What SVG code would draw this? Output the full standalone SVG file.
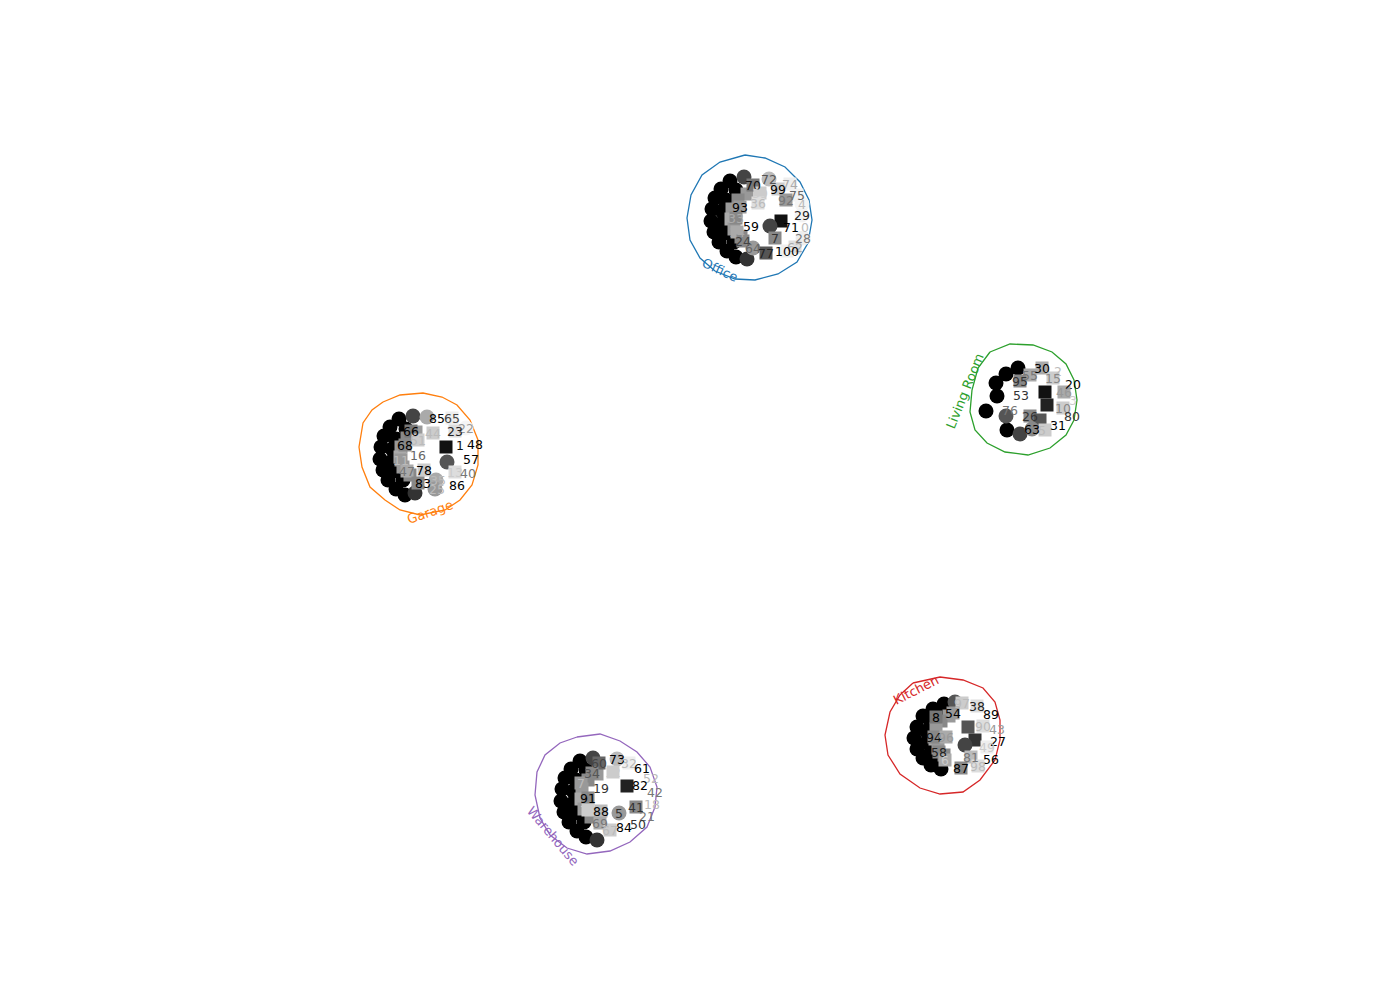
<svg xmlns="http://www.w3.org/2000/svg" width="1400" height="1000" viewBox="0 0 1400 1000">
<style>
.bg{fill:#fff}
.hull{fill:none;stroke-width:1.3}
.hl{font-family:"DejaVu Sans","Liberation Sans",sans-serif;font-size:13px;text-anchor:middle;dominant-baseline:central}
.lb{font-family:"DejaVu Sans","Liberation Sans",sans-serif;font-size:12.5px;text-anchor:middle;dominant-baseline:central}
.k{fill:#000}
</style>
<defs>
<circle id="c" r="7.5"/>
<rect id="s" x="-6.5" y="-6.5" width="13" height="13"/>
</defs>
<rect class="bg" x="0" y="0" width="1400" height="1000"/>
<g id="connectors"></g>

<g id="office">
<polyline class="hull" stroke="#1f77b4" points="745,155 765,158 785,167 800,182 809,200 812,220 808,243 797,262 778,274 755,280 735,279 715,271 700,258 690,240 687,218 691,195 702,175 720,162 745,155"/>
<text class="hl" fill="#1f77b4" transform="translate(720,270) rotate(25)">Office</text>
<g class="k"><use href="#c" x="730" y="181"/><use href="#c" x="721" y="189"/><use href="#c" x="715" y="198"/><use href="#c" x="712" y="209"/><use href="#c" x="711" y="221"/><use href="#c" x="714" y="232"/><use href="#c" x="719" y="242"/><use href="#c" x="727" y="251"/><use href="#c" x="736" y="257"/>
<use href="#c" x="736" y="190"/><use href="#c" x="726" y="200"/><use href="#c" x="722" y="211"/><use href="#c" x="722" y="223"/><use href="#c" x="726" y="233"/><use href="#c" x="734" y="242"/></g>
<use href="#c" x="744" y="177" fill="#444"/><use href="#c" x="747" y="259" fill="#333"/>
<use href="#s" x="747" y="194" fill="#999"/><use href="#s" x="738" y="200" fill="#888"/><use href="#s" x="732" y="209" fill="#999"/><use href="#s" x="731" y="219" fill="#aaa"/><use href="#s" x="734" y="229" fill="#999"/><use href="#s" x="741" y="237" fill="#888"/>
<use href="#c" x="769" y="179" fill="#bbb"/><use href="#s" x="753" y="185" fill="#777"/><use href="#s" x="790" y="184" fill="#eee"/><use href="#s" x="778" y="189" fill="#ccc"/><use href="#s" x="797" y="195" fill="#f2f2f2"/><use href="#s" x="786" y="200" fill="#999"/><use href="#s" x="760" y="193" fill="#ccc"/><use href="#s" x="758" y="203" fill="#ddd"/><use href="#c" x="802" y="204" fill="#f5f5f5"/><use href="#s" x="740" y="207" fill="#999"/><use href="#c" x="802" y="215" fill="#f2f2f2"/><use href="#s" x="736" y="218" fill="#888"/><use href="#s" x="781" y="221" fill="#111"/><use href="#c" x="770" y="226" fill="#444"/><use href="#s" x="737" y="232" fill="#aaa"/><use href="#c" x="803" y="238" fill="#eee"/><use href="#s" x="775" y="238" fill="#888"/><use href="#s" x="795" y="247" fill="#ddd"/><use href="#s" x="743" y="241" fill="#888"/><use href="#c" x="753" y="248" fill="#999"/><use href="#s" x="766" y="253" fill="#555"/><use href="#s" x="787" y="251" fill="#eee"/>
<text class="lb" x="769" y="179" fill="#555">72</text><text class="lb" x="753" y="185" fill="#111">70</text><text class="lb" x="790" y="184" fill="#aaa">74</text><text class="lb" x="778" y="189" fill="#000">99</text><text class="lb" x="797" y="195" fill="#666">75</text><text class="lb" x="786" y="200" fill="#777">92</text><text class="lb" x="760" y="193" fill="#ccc">39</text><text class="lb" x="758" y="203" fill="#bbb">36</text><text class="lb" x="802" y="204" fill="#bbb">4</text><text class="lb" x="740" y="207" fill="#000">93</text><text class="lb" x="802" y="215" fill="#222">29</text><text class="lb" x="736" y="218" fill="#aaa">33</text><text class="lb" x="751" y="226" fill="#000">59</text><text class="lb" x="791" y="227" fill="#000">71</text><text class="lb" x="805" y="227" fill="#bbb">0</text><text class="lb" x="737" y="232" fill="#aaa">14</text><text class="lb" x="803" y="238" fill="#777">28</text><text class="lb" x="775" y="238" fill="#333">7</text><text class="lb" x="795" y="247" fill="#aaa">62</text><text class="lb" x="743" y="241" fill="#444">24</text><text class="lb" x="753" y="248" fill="#666">64</text><text class="lb" x="766" y="253" fill="#222">77</text><text class="lb" x="787" y="251" fill="#000">100</text>
</g>

<g id="living-room">
<polyline class="hull" stroke="#2ca02c" points="990,352 1010,344 1033,345 1052,352 1066,364 1074,380 1077,400 1074,420 1066,435 1050,448 1028,455 1005,452 987,443 975,430 970,412 972,390 978,368 990,352"/>
<text class="hl" fill="#2ca02c" transform="translate(965,391) rotate(-68)">Living Room</text>
<g class="k"><use href="#c" x="1018" y="368"/><use href="#c" x="1006" y="374"/><use href="#c" x="996" y="383"/><use href="#c" x="997" y="396"/><use href="#c" x="986" y="411"/><use href="#c" x="1007" y="430"/></g>
<use href="#c" x="1020" y="434" fill="#444"/><use href="#c" x="1006" y="416" fill="#555"/>
<use href="#s" x="1042" y="368" fill="#aaa"/><use href="#s" x="1030" y="375" fill="#aaa"/><use href="#s" x="1020" y="381" fill="#888"/><use href="#s" x="1053" y="378" fill="#ccc"/><use href="#s" x="1045" y="392" fill="#111"/><use href="#s" x="1047" y="405" fill="#222"/><use href="#s" x="1064" y="392" fill="#aaa"/><use href="#s" x="1063" y="408" fill="#ccc"/><use href="#s" x="1030" y="416" fill="#888"/><use href="#s" x="1040" y="420" fill="#555"/><use href="#c" x="1032" y="429" fill="#888"/><use href="#s" x="1045" y="430" fill="#ccc"/>
<text class="lb" x="1042" y="368" fill="#000">30</text><text class="lb" x="1058" y="371" fill="#bbb">2</text><text class="lb" x="1030" y="375" fill="#777">55</text><text class="lb" x="1020" y="381" fill="#333">95</text><text class="lb" x="1053" y="378" fill="#888">15</text><text class="lb" x="1073" y="384" fill="#000">20</text><text class="lb" x="1021" y="395" fill="#333">53</text><text class="lb" x="1064" y="392" fill="#999">46</text><text class="lb" x="1073" y="400" fill="#ccc">3</text><text class="lb" x="1010" y="410" fill="#777">76</text><text class="lb" x="1063" y="408" fill="#888">10</text><text class="lb" x="1072" y="416" fill="#333">80</text><text class="lb" x="1030" y="416" fill="#333">26</text><text class="lb" x="1032" y="429" fill="#000">63</text><text class="lb" x="1042" y="430" fill="#bbb">5</text><text class="lb" x="1058" y="425" fill="#000">31</text>
</g>

<g id="garage">
<polyline class="hull" stroke="#ff7f0e" points="383,402 400,395 423,393 442,397 457,405 470,420 478,440 478,465 472,485 460,500 445,510 420,515 400,510 385,500 370,487 362,467 359,447 363,423 372,410 383,402"/>
<text class="hl" fill="#ff7f0e" transform="translate(430,512) rotate(-19)">Garage</text>
<g class="k"><use href="#c" x="399" y="419"/><use href="#c" x="390" y="427"/><use href="#c" x="384" y="436"/><use href="#c" x="381" y="447"/><use href="#c" x="380" y="459"/><use href="#c" x="383" y="470"/><use href="#c" x="388" y="480"/><use href="#c" x="396" y="489"/><use href="#c" x="405" y="495"/>
<use href="#c" x="406" y="429"/><use href="#c" x="396" y="439"/><use href="#c" x="392" y="449"/><use href="#c" x="392" y="461"/><use href="#c" x="396" y="471"/><use href="#c" x="403" y="480"/></g>
<use href="#c" x="413" y="416" fill="#444"/><use href="#c" x="415" y="493" fill="#333"/>
<use href="#s" x="416" y="432" fill="#999"/><use href="#s" x="407" y="438" fill="#888"/><use href="#s" x="401" y="447" fill="#999"/><use href="#s" x="400" y="457" fill="#aaa"/><use href="#s" x="403" y="467" fill="#999"/><use href="#s" x="410" y="475" fill="#888"/>
<use href="#c" x="427" y="417" fill="#aaa"/><use href="#s" x="452" y="418" fill="#eee"/><use href="#c" x="466" y="428" fill="#f5f5f5"/><use href="#s" x="411" y="431" fill="#777"/><use href="#s" x="433" y="433" fill="#ccc"/><use href="#s" x="455" y="431" fill="#ddd"/><use href="#s" x="446" y="447" fill="#111"/><use href="#c" x="447" y="462" fill="#555"/><use href="#s" x="405" y="445" fill="#888"/><use href="#s" x="418" y="440" fill="#ccc"/><use href="#s" x="401" y="460" fill="#999"/><use href="#s" x="407" y="471" fill="#aaa"/><use href="#s" x="424" y="470" fill="#ccc"/><use href="#s" x="455" y="472" fill="#ddd"/><use href="#s" x="418" y="483" fill="#888"/><use href="#c" x="436" y="480" fill="#aaa"/><use href="#c" x="435" y="489" fill="#999"/>
<text class="lb" x="437" y="418" fill="#000">85</text><text class="lb" x="452" y="418" fill="#444">65</text><text class="lb" x="466" y="428" fill="#999">22</text><text class="lb" x="411" y="431" fill="#000">66</text><text class="lb" x="433" y="433" fill="#bbb">44</text><text class="lb" x="455" y="431" fill="#222">23</text><text class="lb" x="460" y="445" fill="#111">1</text><text class="lb" x="475" y="444" fill="#000">48</text><text class="lb" x="405" y="445" fill="#000">68</text><text class="lb" x="418" y="440" fill="#bbb">51</text><text class="lb" x="418" y="455" fill="#666">16</text><text class="lb" x="401" y="460" fill="#bbb">11</text><text class="lb" x="471" y="459" fill="#000">57</text><text class="lb" x="407" y="471" fill="#777">47</text><text class="lb" x="424" y="470" fill="#000">78</text><text class="lb" x="455" y="472" fill="#ccc">13</text><text class="lb" x="468" y="473" fill="#777">40</text><text class="lb" x="423" y="483" fill="#000">83</text><text class="lb" x="438" y="480" fill="#bbb">35</text><text class="lb" x="437" y="489" fill="#bbb">25</text><text class="lb" x="457" y="485" fill="#000">86</text>
</g>

<g id="kitchen">
<polyline class="hull" stroke="#d62728" points="913,683 940,677 963,680 983,688 995,702 1000,720 1000,740 995,760 980,780 963,792 940,794 920,788 900,774 888,755 885,735 890,712 900,695 913,683"/>
<text class="hl" fill="#d62728" transform="translate(916,690) rotate(-27)">Kitchen</text>
<g class="k"><use href="#c" x="944" y="704"/><use href="#c" x="933" y="709"/><use href="#c" x="923" y="716"/><use href="#c" x="917" y="727"/><use href="#c" x="914" y="738"/><use href="#c" x="917" y="749"/><use href="#c" x="923" y="758"/><use href="#c" x="931" y="765"/><use href="#c" x="941" y="769"/>
<use href="#c" x="940" y="712"/><use href="#c" x="931" y="722"/><use href="#c" x="927" y="732"/><use href="#c" x="927" y="742"/><use href="#c" x="931" y="752"/><use href="#c" x="938" y="760"/></g>
<use href="#c" x="955" y="702" fill="#555"/>
<use href="#s" x="949" y="716" fill="#999"/><use href="#s" x="941" y="721" fill="#888"/><use href="#s" x="936" y="729" fill="#999"/><use href="#s" x="935" y="739" fill="#aaa"/><use href="#s" x="938" y="748" fill="#999"/><use href="#s" x="944" y="755" fill="#888"/>
<use href="#s" x="962" y="703" fill="#ccc"/><use href="#s" x="977" y="706" fill="#ddd"/><use href="#s" x="936" y="717" fill="#777"/><use href="#s" x="953" y="713" fill="#999"/><use href="#s" x="968" y="727" fill="#555"/><use href="#s" x="983" y="726" fill="#ddd"/><use href="#s" x="934" y="737" fill="#888"/><use href="#s" x="946" y="737" fill="#aaa"/><use href="#s" x="975" y="740" fill="#333"/><use href="#c" x="965" y="745" fill="#444"/><use href="#s" x="987" y="747" fill="#eee"/><use href="#s" x="939" y="752" fill="#888"/><use href="#s" x="945" y="760" fill="#aaa"/><use href="#s" x="971" y="757" fill="#bbb"/><use href="#s" x="961" y="768" fill="#888"/><use href="#s" x="978" y="766" fill="#ddd"/>
<text class="lb" x="962" y="703" fill="#bbb">97</text><text class="lb" x="977" y="706" fill="#222">38</text><text class="lb" x="991" y="714" fill="#000">89</text><text class="lb" x="936" y="717" fill="#000">8</text><text class="lb" x="953" y="713" fill="#000">54</text><text class="lb" x="983" y="726" fill="#bbb">90</text><text class="lb" x="997" y="729" fill="#999">43</text><text class="lb" x="934" y="737" fill="#111">94</text><text class="lb" x="946" y="737" fill="#999">96</text><text class="lb" x="998" y="741" fill="#000">27</text><text class="lb" x="987" y="747" fill="#ccc">49</text><text class="lb" x="939" y="752" fill="#222">58</text><text class="lb" x="945" y="760" fill="#ccc">6</text><text class="lb" x="971" y="757" fill="#777">81</text><text class="lb" x="991" y="759" fill="#000">56</text><text class="lb" x="961" y="768" fill="#000">87</text><text class="lb" x="978" y="766" fill="#bbb">98</text>
</g>

<g id="warehouse">
<polyline class="hull" stroke="#9467bd" points="577,737 600,734 620,741 637,752 650,767 657,787 655,807 647,827 630,842 610,851 587,854 567,848 550,835 540,818 535,795 537,772 545,755 560,743 577,737"/>
<text class="hl" fill="#9467bd" transform="translate(553,836) rotate(50)">Warehouse</text>
<g class="k"><use href="#c" x="580" y="761"/><use href="#c" x="571" y="769"/><use href="#c" x="565" y="778"/><use href="#c" x="562" y="789"/><use href="#c" x="561" y="801"/><use href="#c" x="564" y="812"/><use href="#c" x="569" y="822"/><use href="#c" x="577" y="831"/><use href="#c" x="586" y="837"/>
<use href="#c" x="586" y="770"/><use href="#c" x="576" y="780"/><use href="#c" x="573" y="791"/><use href="#c" x="573" y="803"/><use href="#c" x="576" y="813"/><use href="#c" x="584" y="822"/></g>
<use href="#c" x="593" y="758" fill="#444"/><use href="#c" x="597" y="840" fill="#333"/>
<use href="#s" x="597" y="774" fill="#999"/><use href="#s" x="588" y="780" fill="#888"/><use href="#s" x="582" y="789" fill="#999"/><use href="#s" x="581" y="799" fill="#aaa"/><use href="#s" x="584" y="809" fill="#999"/><use href="#s" x="591" y="817" fill="#888"/>
<use href="#c" x="617" y="759" fill="#bbb"/><use href="#s" x="599" y="763" fill="#666"/><use href="#s" x="629" y="763" fill="#eee"/><use href="#s" x="592" y="773" fill="#888"/><use href="#s" x="613" y="772" fill="#ccc"/><use href="#s" x="581" y="783" fill="#999"/><use href="#s" x="627" y="786" fill="#222"/><use href="#s" x="588" y="798" fill="#888"/><use href="#s" x="636" y="807" fill="#888"/><use href="#s" x="588" y="810" fill="#ccc"/><use href="#s" x="601" y="811" fill="#bbb"/><use href="#c" x="619" y="813" fill="#999"/><use href="#s" x="600" y="823" fill="#aaa"/><use href="#s" x="610" y="830" fill="#ccc"/>
<text class="lb" x="617" y="759" fill="#000">73</text><text class="lb" x="599" y="763" fill="#444">60</text><text class="lb" x="629" y="763" fill="#bbb">32</text><text class="lb" x="642" y="768" fill="#000">61</text><text class="lb" x="592" y="773" fill="#555">34</text><text class="lb" x="613" y="772" fill="#ccc">12</text><text class="lb" x="651" y="778" fill="#bbb">52</text><text class="lb" x="581" y="783" fill="#bbb">7</text><text class="lb" x="640" y="785" fill="#000">82</text><text class="lb" x="601" y="788" fill="#333">19</text><text class="lb" x="655" y="792" fill="#777">42</text><text class="lb" x="588" y="798" fill="#000">91</text><text class="lb" x="652" y="804" fill="#bbb">18</text><text class="lb" x="636" y="807" fill="#333">41</text><text class="lb" x="588" y="810" fill="#ccc">79</text><text class="lb" x="601" y="811" fill="#000">88</text><text class="lb" x="619" y="813" fill="#333">5</text><text class="lb" x="647" y="816" fill="#777">21</text><text class="lb" x="600" y="823" fill="#777">69</text><text class="lb" x="624" y="827" fill="#000">84</text><text class="lb" x="638" y="824" fill="#333">50</text><text class="lb" x="610" y="830" fill="#bbb">67</text>
</g>
</svg>
